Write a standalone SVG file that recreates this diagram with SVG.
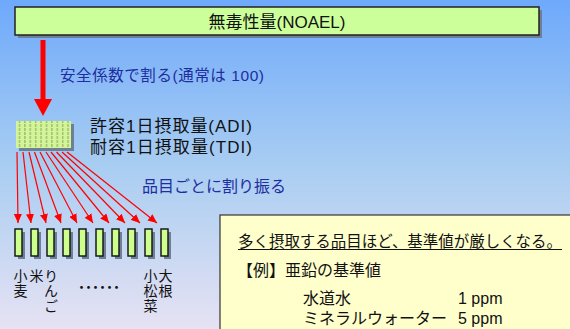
<svg xmlns="http://www.w3.org/2000/svg" width="570" height="329" viewBox="0 0 570 329">
<defs>
<linearGradient id="bg" x1="0" y1="0" x2="0" y2="1">
<stop offset="0" stop-color="#6ea9fb"/>
<stop offset="0.5" stop-color="#a8cdf2"/>
<stop offset="1" stop-color="#e6e2f3"/>
</linearGradient>
<marker id="ah" markerUnits="userSpaceOnUse" markerWidth="9" markerHeight="8" refX="9" refY="4" orient="auto">
<path d="M0,0 L9,4 L0,8 z" fill="#ff0000"/>
</marker>
<pattern id="stripes" patternUnits="userSpaceOnUse" x="16" y="0" width="5.4" height="4">
<rect x="3" y="0" width="1" height="3" fill="#8aa35e"/>
</pattern>
</defs>
<style>
text{font-family:"Liberation Sans","Noto Sans CJK JP",sans-serif}
.blk{fill:#111}
.blue{fill:#1e2ea0}
.shadow{fill:#6f7f96}
.bar{fill:#ccff8c;stroke:#1a1a1a;stroke-width:1.5}
.vlab{font-size:14px;fill:#111;writing-mode:vertical-rl;letter-spacing:1px}
.fan{stroke:#ff0000;stroke-width:1.2;fill:none;marker-end:url(#ah)}
</style>
<rect width="570" height="329" fill="url(#bg)"/>

<g id="noael">
<rect x="18" y="10" width="524" height="28" class="shadow"/>
<rect x="15" y="7" width="524" height="28" fill="#ccff99" stroke="#222" stroke-width="1.5"/>
<text x="277" y="27.5" font-size="17" text-anchor="middle" class="blk">無毒性量(NOAEL)</text>
</g>

<g id="adi-block">
<rect x="19" y="124" width="55" height="27" class="shadow"/>
<rect x="16" y="121" width="55" height="27" fill="#d2f59a"/>
<rect x="16" y="121" width="55" height="27" fill="url(#stripes)"/>
<text x="90" y="132" font-size="17" class="blk" textLength="162" lengthAdjust="spacing">許容1日摂取量(ADI)</text>
<text x="90" y="153" font-size="17" class="blk" textLength="162" lengthAdjust="spacing">耐容1日摂取量(TDI)</text>
</g>

<g id="bars">
<rect x="18" y="232" width="7" height="27" class="shadow"/>
<rect x="15" y="229" width="7" height="27" class="bar"/>
<rect x="34" y="232" width="7" height="27" class="shadow"/>
<rect x="31" y="229" width="7" height="27" class="bar"/>
<rect x="50" y="232" width="7" height="27" class="shadow"/>
<rect x="47" y="229" width="7" height="27" class="bar"/>
<rect x="66" y="232" width="7" height="27" class="shadow"/>
<rect x="63" y="229" width="7" height="27" class="bar"/>
<rect x="82" y="232" width="7" height="27" class="shadow"/>
<rect x="79" y="229" width="7" height="27" class="bar"/>
<rect x="99" y="232" width="7" height="27" class="shadow"/>
<rect x="96" y="229" width="7" height="27" class="bar"/>
<rect x="115" y="232" width="7" height="27" class="shadow"/>
<rect x="112" y="229" width="7" height="27" class="bar"/>
<rect x="131" y="232" width="7" height="27" class="shadow"/>
<rect x="128" y="229" width="7" height="27" class="bar"/>
<rect x="148" y="232" width="7" height="27" class="shadow"/>
<rect x="145" y="229" width="7" height="27" class="bar"/>
<rect x="164" y="232" width="7" height="27" class="shadow"/>
<rect x="161" y="229" width="7" height="27" class="bar"/>
</g>

<g id="labels">
<text class="vlab" x="19.5" y="269">小麦</text>
<text class="vlab" x="35.5" y="269">米</text>
<text class="vlab" x="50" y="269">りんご</text>
<text x="75" y="292" font-size="13" class="blk" textLength="48" lengthAdjust="spacing">・・・・・・</text>
<text class="vlab" x="149.5" y="269">小松菜</text>
<text class="vlab" x="164.5" y="269">大根</text>
</g>

<g id="note">
<rect x="220" y="215" width="360" height="120" fill="#ffffcc" stroke="#333" stroke-width="1.2"/>
<text x="238" y="247" font-size="15.4" class="blk" textLength="324" lengthAdjust="spacingAndGlyphs">多く摂取する品目ほど、基準値が厳しくなる。</text>
<line x1="238" y1="249.5" x2="562" y2="249.5" stroke="#111" stroke-width="1"/>
<text x="237" y="276" font-size="16" class="blk">【例】亜鉛の基準値</text>
<text x="303" y="304" font-size="16" class="blk">水道水</text>
<text x="458" y="304" font-size="16" class="blk">1 ppm</text>
<text x="303" y="324" font-size="16" class="blk">ミネラルウォーター</text>
<text x="458" y="324" font-size="16" class="blk">5 ppm</text>
</g>

<g id="connectors">
<g id="main-arrow">
<rect x="40.5" y="40" width="5" height="60" fill="#ff0000"/>
<path d="M34,99 L52,99 L43,116 z" fill="#ff0000"/>
<text x="60" y="81" font-size="15.5" class="blue" textLength="204" lengthAdjust="spacing">安全係数で割る(通常は 100)</text>
</g>
<g id="fan">
<line class="fan" x1="17" y1="152" x2="18" y2="223"/>
<line class="fan" x1="23" y1="152" x2="31" y2="223"/>
<line class="fan" x1="29" y1="152" x2="46" y2="223"/>
<line class="fan" x1="34.5" y1="152" x2="61" y2="223"/>
<line class="fan" x1="40" y1="152" x2="77" y2="223"/>
<line class="fan" x1="46" y1="152" x2="93" y2="223"/>
<line class="fan" x1="51" y1="152" x2="109" y2="223"/>
<line class="fan" x1="56.5" y1="152" x2="125" y2="223"/>
<line class="fan" x1="62" y1="152" x2="140" y2="223"/>
<line class="fan" x1="67" y1="152" x2="157" y2="223"/>
<text x="142" y="192" font-size="16" class="blue">品目ごとに割り振る</text>
</g>
</g>
</svg>
